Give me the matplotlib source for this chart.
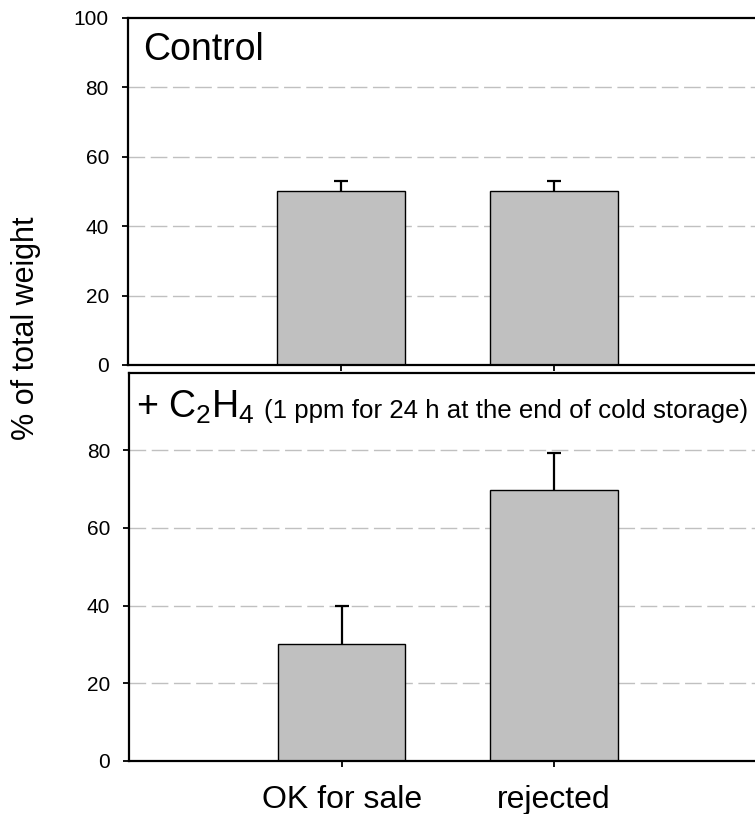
import matplotlib
matplotlib.use("Agg")
import matplotlib.pyplot as plt
import numpy as np

plt.rcParams['font.family'] = ['Liberation Sans', 'DejaVu Sans']
plt.rcParams['mathtext.fontset'] = 'custom'
plt.rcParams['mathtext.rm'] = 'Liberation Sans'
plt.rcParams['mathtext.it'] = 'Liberation Sans:italic'

categories = ["OK for sale", "rejected"]
control_vals = [50.0, 50.0]
control_err = [3.0, 3.0]
ethylene_vals = [30.2, 69.8]
ethylene_err = [9.7, 9.4]
yticks_top = [0, 20, 40, 60, 80, 100]
yticks_bottom = [0, 20, 40, 60, 80]

W, H = 755, 814
fig = plt.figure(figsize=(W / 100, H / 100), dpi=100)

x = np.arange(len(categories))
ax_top = fig.add_axes([127.7 / W, (H - 365) / H, 639.0 / W, 347.3 / H])
ax_bot = fig.add_axes([129.0 / W, (H - 760.7) / H, (766.7 - 129.0) / W, 388.0 / H])

def style(ax, yticks, labels):
    ax.set_xlim(-1, 2)
    ax.set_ylim(0, 100)
    ax.set_yticks(yticks)
    ax.set_yticklabels([str(t) for t in yticks], fontsize=15)
    ax.set_xticks(x)
    if labels:
        ax.set_xticklabels(categories, fontsize=23)
    else:
        ax.set_xticklabels([])
    for t in yticks:
        if 0 < t < 100:
            ax.axhline(t, color='#c0c0c0', lw=1.0, dashes=(12, 4), zorder=0)
    ax.spines['right'].set_visible(False)
    for s in ['left', 'top', 'bottom']:
        ax.spines[s].set_linewidth(1.6)
    ax.tick_params(axis='both', direction='out', length=4.5, width=1.3)
    ax.tick_params(axis='y', pad=9)
    ax.tick_params(axis='x', pad=13)

style(ax_top, yticks_top, False)
style(ax_bot, yticks_bottom, True)

for ax, vals, errs in [(ax_top, control_vals, control_err), (ax_bot, ethylene_vals, ethylene_err)]:
    ax.bar(x, vals, width=0.6, color='#c0c0c0', edgecolor='black', linewidth=1.0, zorder=2)
    ax.errorbar(x, vals, yerr=errs, fmt='none', ecolor='black',
                elinewidth=1.6, capsize=4.7, capthick=1.6, zorder=1.5)

fig.text(143 / W, (H - 50) / H, "Control", fontsize=27, va='center', ha='left')
fig.text(136 / W, (H - 418) / H, r"+ C$_2$H$_4$", fontsize=27, va='baseline', ha='left')
fig.text(264 / W, (H - 418) / H, "(1 ppm for 24 h at the end of cold storage)",
         fontsize=18.6, va='baseline', ha='left')

fig.text(26 / W, (H - 328) / H, "% of total weight", rotation=90, fontsize=22,
         va='center', ha='center')

fig.savefig("out.png", dpi=100)
